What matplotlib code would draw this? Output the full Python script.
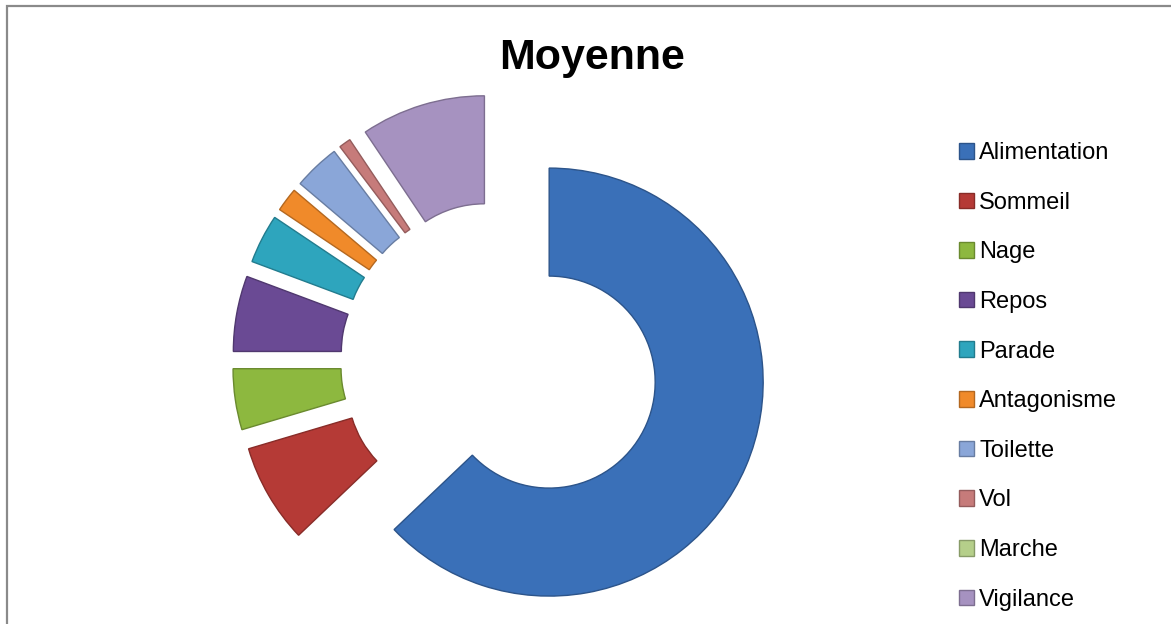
import matplotlib
matplotlib.use("Agg")
import matplotlib.pyplot as plt
from matplotlib.patches import Rectangle
import matplotlib.colors as mcolors

# donnees (pourcentages)
labels = ['Alimentation', 'Sommeil', 'Nage', 'Repos', 'Parade',
          'Antagonisme', 'Toilette', 'Vol', 'Marche', 'Vigilance']
values = [62.9, 7.5, 4.6, 5.7, 3.7, 1.8, 3.5, 0.9, 0.0, 9.4]
colors = ['#3A70B8', '#B53A36', '#8DB83F', '#6A4A94', '#2EA5BD',
          '#F08A2A', '#8AA6D8', '#C67B7A', '#B5CF8A', '#A692C0']

W, H = 1171, 624
fig = plt.figure(figsize=(W / 100, H / 100), dpi=100)
ax = fig.add_axes([0, 0, 1, 1])

edge = [mcolors.to_hex([c * 0.75 for c in mcolors.to_rgb(col)]) for col in colors]

wedges, _ = ax.pie(values, colors=colors, center=(500, 263), radius=214,
                   explode=[53.5] * len(values), startangle=90, counterclock=False,
                   wedgeprops=dict(width=108, linewidth=1.0))
for w, e in zip(wedges, edge):
    w.set_edgecolor(e)

ax.set_xlim(0, W)
ax.set_ylim(0, H)
ax.set_aspect('equal')
ax.axis('off')

# cadre gris
ax.add_patch(Rectangle((7, -20), W + 20, H - 6 + 20, fill=False,
                       edgecolor='#8a8a8a', linewidth=1.6))

ax.text(592, H - 58, 'Moyenne', ha='center', va='center', fontsize=31,
        fontweight='bold', family='Liberation Sans')

leg = ax.legend(wedges, labels, loc='upper left',
                bbox_to_anchor=(959 / W, (H - 142) / H),
                frameon=False, borderpad=0, borderaxespad=0,
                handlelength=0.64, handleheight=0.64, handletextpad=0.22,
                labelspacing=1.17, prop={'family': 'Liberation Sans', 'size': 17})

# pas de trait pour les parts nulles (Marche)
for w, v in zip(wedges, values):
    if v == 0:
        w.set_linewidth(0)

fig.savefig('out.png', dpi=100)
